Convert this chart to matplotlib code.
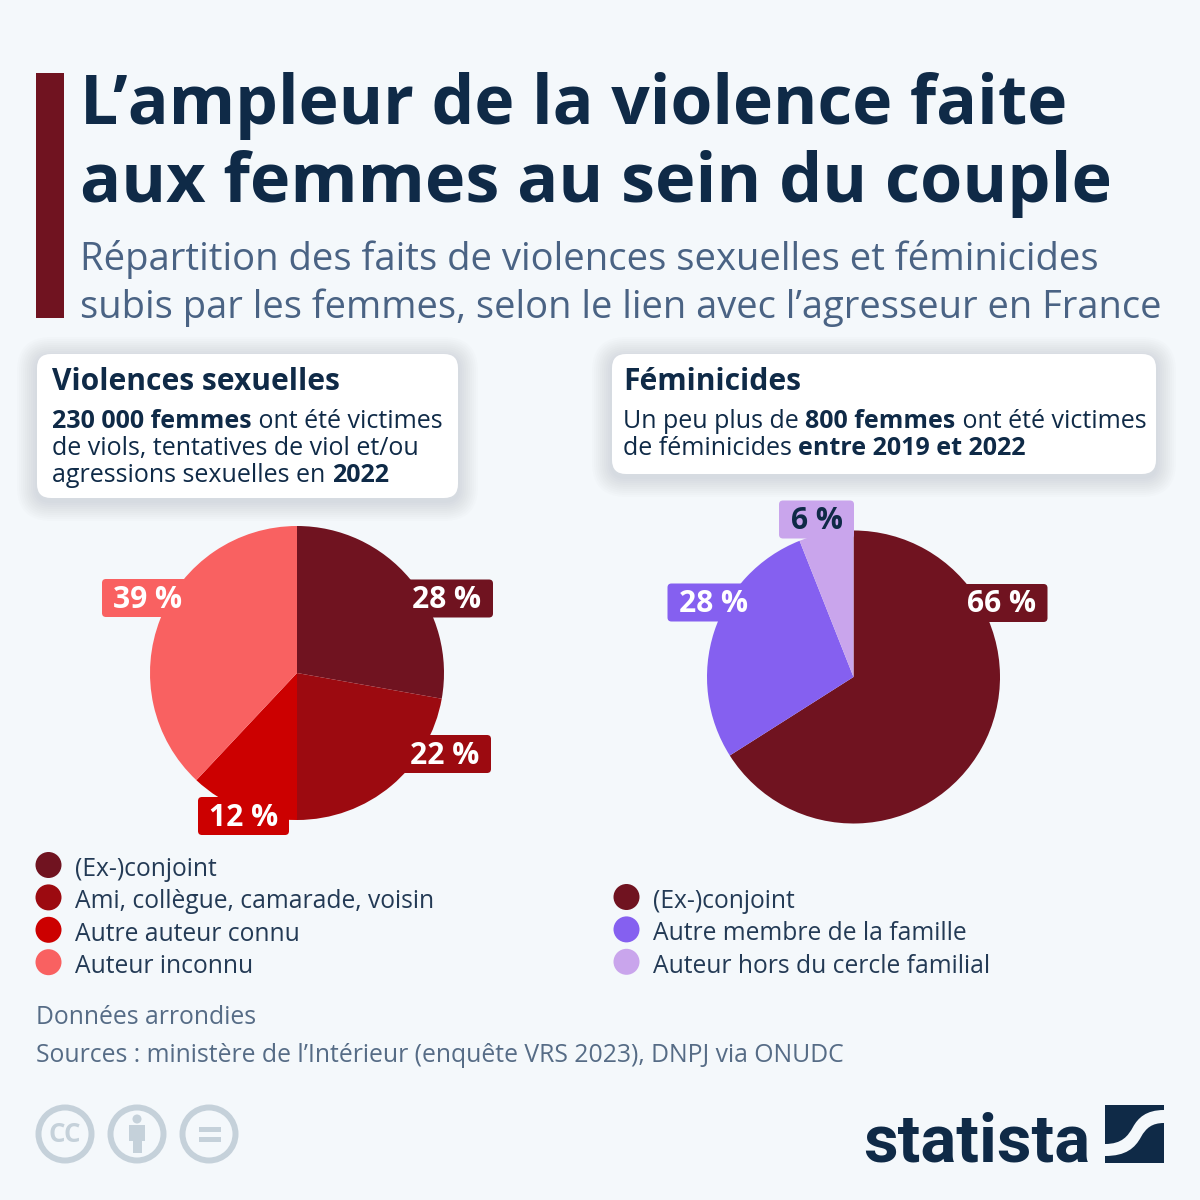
import matplotlib
matplotlib.use('Agg')
import matplotlib.pyplot as plt
from matplotlib.patches import Rectangle, FancyBboxPatch, Circle, PathPatch
from matplotlib.path import Path

# data
left_values = [27.8, 22.2, 12, 38]
left_labels = ['28 %', '22 %', '12 %', '39 %']
left_colors = ['#701320', '#9c0a10', '#cc0000', '#f96161']
left_legend = ['(Ex-)conjoint', 'Ami, collègue, camarade, voisin', 'Autre auteur connu', 'Auteur inconnu']

right_values = [66, 28, 6]
right_labels = ['66 %', '28 %', '6 %']
right_colors = ['#701320', '#8560f0', '#c9a5ec']
right_legend = ['(Ex-)conjoint', 'Autre membre de la famille', 'Auteur hors du cercle familial']

BG = '#f4f8fb'
NAVY = '#0f2a47'
SUB = '#4a6384'
GREY = '#c5d1da'

plt.rcParams['font.family'] = ['Open Sans', 'DejaVu Sans']

fig = plt.figure(figsize=(12, 12), dpi=100, facecolor=BG)
ax = fig.add_axes([0, 0, 1, 1])
ax.set_facecolor(BG)


def px(n):
    # hauteur en pixels -> points
    return n * 0.72


def draw_runs(x, y, runs, size, color=NAVY):
    # texte avec morceaux normal / gras sur une ligne
    r = fig.canvas.get_renderer()
    for s, w in runs:
        ax.text(x, y, s, fontsize=px(size), fontweight=w, color=color, va='baseline', ha='left', zorder=3)
        t1 = ax.text(0, 0, s + '.', fontsize=px(size), fontweight=w)
        t2 = ax.text(0, 0, '.', fontsize=px(size), fontweight=w)
        x += t1.get_window_extent(r).width - t2.get_window_extent(r).width
        t1.remove()
        t2.remove()


def card(x0, y0, x1, y1):
    # ombre puis carte blanche
    for i in range(20, 0, -2):
        ax.add_patch(FancyBboxPatch((x0 - i, y0 - i + 3), x1 - x0 + 2 * i, y1 - y0 + 2 * i,
                                    boxstyle='round,pad=0,rounding_size=%d' % (14 + i),
                                    fc='#55606a', ec='none', alpha=0.016, zorder=1))
    ax.add_patch(FancyBboxPatch((x0, y0), x1 - x0, y1 - y0, boxstyle='round,pad=0,rounding_size=14',
                                fc='white', ec='none', zorder=2))


def tag(x0, x1, yc, label, color, tcolor='white'):
    ax.add_patch(FancyBboxPatch((x0, yc - 19), x1 - x0, 38, boxstyle='round,pad=0,rounding_size=4',
                                fc=color, ec='none', zorder=5))
    ax.text((x0 + x1) / 2, yc + 9.5, label, fontsize=px(30), fontweight='bold', color=tcolor,
            ha='center', va='baseline', zorder=6)


# en-tête
ax.add_patch(Rectangle((36, 73), 28, 245, fc='#701320', ec='none'))
ax.text(80, 124, 'L’ampleur de la violence faite', fontsize=px(67.7), fontweight='bold', color=NAVY)
ax.text(80, 202, 'aux femmes au sein du couple', fontsize=px(68.4), fontweight='bold', color=NAVY)
ax.text(80, 270, 'Répartition des faits de violences sexuelles et féminicides', fontsize=px(38.2), color=SUB)
ax.text(80, 318, 'subis par les femmes, selon le lien avec l’agresseur en France', fontsize=px(38.1), color=SUB)

# cartes
card(37, 354, 458, 498)
card(612, 354, 1156, 474)
ax.text(52.5, 390, 'Violences sexuelles', fontsize=px(30), fontweight='bold', color=NAVY, zorder=3)
ax.text(623, 390, 'Féminicides', fontsize=px(30), fontweight='bold', color=NAVY, zorder=3)

draw_runs(52.5, 428, [('230 000 femmes', 'bold'), (' ont été victimes', 'normal')], 25)
draw_runs(52.5, 455, [('de viols, tentatives de viol et/ou', 'normal')], 25)
draw_runs(52.5, 482, [('agressions sexuelles en ', 'normal'), ('2022', 'bold')], 25)
draw_runs(623, 428, [('Un peu plus de ', 'normal'), ('800 femmes', 'bold'), (' ont été victimes', 'normal')], 25)
draw_runs(623, 455, [('de féminicides ', 'normal'), ('entre 2019 et 2022', 'bold')], 25)

# camemberts
ax.pie(left_values, colors=left_colors, center=(297, 673), radius=147, startangle=-90,
       counterclock=True, frame=True, wedgeprops=dict(linewidth=0))
ax.pie(right_values, colors=right_colors, center=(853.5, 677), radius=146.5, startangle=-90,
       counterclock=True, frame=True, wedgeprops=dict(linewidth=0))

tag(401, 493, 598.5, left_labels[0], left_colors[0])
tag(399, 491, 754, left_labels[1], left_colors[1])
tag(198, 289, 816, left_labels[2], left_colors[2])
tag(102, 193, 598, left_labels[3], left_colors[3])

tag(955.5, 1047.5, 603, right_labels[0], right_colors[0])
tag(667.5, 759.5, 602.5, right_labels[1], right_colors[1])
tag(779, 854, 519.5, right_labels[2], right_colors[2], NAVY)

# légendes
for i, (s, c) in enumerate(zip(left_legend, left_colors)):
    y = 866 + i * 32.4
    ax.add_patch(Circle((48.5, y - 1), 13, fc=c, ec='none'))
    ax.text(75, y + 10, s, fontsize=px(24.6), color='#233a55')
for i, (s, c) in enumerate(zip(right_legend, right_colors)):
    y = 898 + i * 32.4
    ax.add_patch(Circle((626.5, y - 1), 13, fc=c, ec='none'))
    ax.text(653, y + 10, s, fontsize=px(24.6), color='#233a55')

# notes
ax.text(36, 1024, 'Données arrondies', fontsize=px(24.7), color='#566c86')
ax.text(36, 1062, 'Sources : ministère de l’Intérieur (enquête VRS 2023), DNPJ via ONUDC', fontsize=px(24.7), color='#566c86')

# icônes licence
for cx in [65, 137, 209]:
    ax.add_patch(Circle((cx, 1134), 26.5, fc='none', ec=GREY, lw=4.3))
ax.text(65, 1134, 'CC', fontsize=px(26), fontweight='bold', color=GREY, ha='center', va='center')
ax.add_patch(Circle((137, 1119), 4.5, fc=GREY, ec='none'))
ax.add_patch(Rectangle((129, 1125), 16, 16, fc=GREY, ec='none'))
ax.add_patch(Rectangle((132.5, 1141), 9, 12, fc=GREY, ec='none'))
ax.add_patch(Rectangle((199, 1127), 22, 5, fc=GREY, ec='none'))
ax.add_patch(Rectangle((199, 1137), 22, 5, fc=GREY, ec='none'))

# logo
ax.text(863, 1162, 'statista', fontsize=px(67), fontweight='bold', color=NAVY, family=['Roboto', 'DejaVu Sans'])
ax.add_patch(Rectangle((1105, 1105), 59, 58, fc=NAVY, ec='none'))
swoosh = Path([(1105, 1144), (1122, 1144), (1128, 1136), (1133, 1127), (1138, 1118), (1146, 1110), (1164, 1110),
               (1164, 1123), (1152, 1123), (1146, 1128), (1141, 1137), (1135, 1148), (1126, 1156), (1105, 1156), (1105, 1144)],
              [Path.MOVETO, Path.CURVE4, Path.CURVE4, Path.CURVE4, Path.CURVE4, Path.CURVE4, Path.CURVE4,
               Path.LINETO, Path.CURVE4, Path.CURVE4, Path.CURVE4, Path.CURVE4, Path.CURVE4, Path.CURVE4, Path.CLOSEPOLY])
ax.add_patch(PathPatch(swoosh, fc=BG, ec='none'))

ax.set_xlim(0, 1200)
ax.set_ylim(1200, 0)
ax.set_aspect('equal')
ax.axis('off')

fig.savefig('out.png', dpi=100, facecolor=BG)
